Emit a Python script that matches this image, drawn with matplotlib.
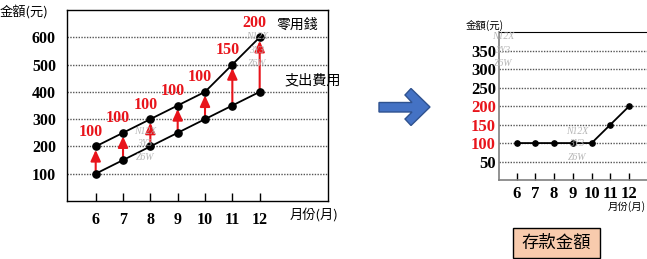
import matplotlib
matplotlib.use("Agg")
import matplotlib.pyplot as plt
from matplotlib.patches import Polygon, Rectangle

# ---- data ----
months = [6, 7, 8, 9, 10, 11, 12]
month_labels = ["6", "7", "8", "9", "10", "11", "12"]
pocket_money = [200, 250, 300, 350, 400, 500, 600]   # 零用錢 (cumulative)
expenses = [100, 150, 200, 250, 300, 350, 400]       # 支出費用 (cumulative)
savings = [p - e for p, e in zip(pocket_money, expenses)]  # 存款金額

left_yticks = [100, 200, 300, 400, 500, 600]
right_yticks = [50, 100, 150, 200, 250, 300, 350]
right_red_ticks = [100, 150, 200]

W, H = 647, 259
SERIF = "Liberation Serif"
CJK = ["Noto Sans CJK TC", "DejaVu Sans"]
RED = "#e8141b"


def fx(x):
    return x / W


def fy(y):
    return 1 - y / H


fig = plt.figure(figsize=(W / 100, H / 100), dpi=100)

# ---------------- left chart ----------------
axL = fig.add_axes([fx(67), fy(201), (328 - 67) / W, (201 - 10) / H])
axL.set_xlim(4.95, 14.5)
axL.set_ylim(0, 700)
for v in left_yticks:
    axL.axhline(v, color="#555555", lw=1.0, ls=(0, (1, 1)), zorder=1)

axL.plot(months, pocket_money, color="black", lw=1.3, marker="o", ms=5.2, zorder=4)
axL.plot(months, expenses, color="black", lw=1.3, marker="o", ms=5.2, zorder=4)

for m, lo, hi, d in zip(months, expenses, pocket_money, savings):
    axL.annotate("", xy=(m, hi), xytext=(m, lo),
                 arrowprops=dict(arrowstyle="-|>,head_length=0.55,head_width=0.25",
                                 mutation_scale=12, color=RED, lw=1.5,
                                 shrinkA=0, shrinkB=2.5),
                 zorder=3)
    axL.annotate(str(d), xy=(m, hi), xytext=(-3.5, 10.5), textcoords="offset points",
                 ha="center", va="center", color=RED, fontsize=11.5,
                 fontweight="bold", family=SERIF, zorder=5)

axL.set_xticks(months)
axL.set_xticklabels(month_labels)
axL.set_yticks(left_yticks)
axL.tick_params(axis="x", direction="in", length=6, width=1, pad=8,
                labelsize=11.5, color="black")
axL.tick_params(axis="y", length=0, pad=8, labelsize=11.5)
for lab in axL.get_xticklabels() + axL.get_yticklabels():
    lab.set_family(SERIF)
    lab.set_fontweight("bold")
for s in axL.spines.values():
    s.set_color("black")
    s.set_linewidth(1.0)

# ---------------- right chart ----------------
axR = fig.add_axes([fx(498.7), fy(180), (647 - 498.7) / W, (180 - 32.3) / H])
axR.set_xlim(5.05, 12.95)
axR.set_ylim(0, 400)
for v in right_yticks:
    axR.axhline(v, color="#555555", lw=1.0, ls=(0, (1, 1)), zorder=1)
axR.plot(months, savings, color="black", lw=1.3, marker="o", ms=3.8, zorder=4)
axR.set_xticks(months)
axR.set_xticklabels(month_labels)
axR.set_yticks(right_yticks)
axR.tick_params(axis="x", direction="in", length=5, width=1, pad=4,
                labelsize=12, color="black")
axR.tick_params(axis="y", length=0, pad=2, labelsize=12)
for lab in axR.get_xticklabels() + axR.get_yticklabels():
    lab.set_family(SERIF)
    lab.set_fontweight("bold")
for v, lab in zip(right_yticks, axR.get_yticklabels()):
    if v in right_red_ticks:
        lab.set_color(RED)
axR.spines["left"].set_color("#7f7f7f")
axR.spines["bottom"].set_color("#7f7f7f")
axR.spines["left"].set_linewidth(1.2)
axR.spines["bottom"].set_linewidth(1.2)
axR.spines["top"].set_color("black")
axR.spines["right"].set_visible(False)

# ---------------- labels ----------------
fig.text(fx(0), fy(12), "金額(元)", family=CJK, fontsize=9.5, ha="left", va="center")
fig.text(fx(290), fy(215), "月份(月)", family=CJK, fontsize=9.5, ha="left", va="center")
fig.text(fx(276), fy(24.5), "零用錢", family=CJK, fontsize=10, ha="left", va="center")
fig.text(fx(285), fy(80), "支出費用", family=CJK, fontsize=10.2, ha="left", va="center")
fig.text(fx(466), fy(25), "金額(元)", family=CJK, fontsize=7.5, ha="left", va="center")
fig.text(fx(646), fy(207), "月份(月)", family=CJK, fontsize=7.5, ha="right", va="center")

# watermark stamps
for (x, y) in [(145, 131), (257, 37), (503, 37), (577, 131)]:
    for i, t in enumerate(["N12X", "3Y3", "Z6W"]):
        fig.text(fx(x), fy(y + 13 * i), t, family=SERIF, style="italic",
                 fontsize=7, color="#b5b5b5", ha="center", va="center", zorder=0)

# blue block arrow
arrow_pts = [(379, 102.5), (412, 102.5), (405, 95), (411, 88.5), (430, 107),
             (411, 125.5), (405, 119), (412, 112), (379, 112)]
fig.patches.append(Polygon([(fx(x), fy(y)) for x, y in arrow_pts], closed=True,
                           transform=fig.transFigure, facecolor="#4472c4",
                           edgecolor="#2f528f", lw=1.0))

# summary box
fig.patches.append(Rectangle((fx(513), fy(257.5)), (599.5 - 513) / W, (257.5 - 227.5) / H,
                             transform=fig.transFigure, facecolor="#f8cbad",
                             edgecolor="black", lw=1.0))
fig.text(fx(556), fy(242.5), "存款金額", family=CJK, fontsize=12.5,
         ha="center", va="center")

fig.savefig("out.png", dpi=100)
